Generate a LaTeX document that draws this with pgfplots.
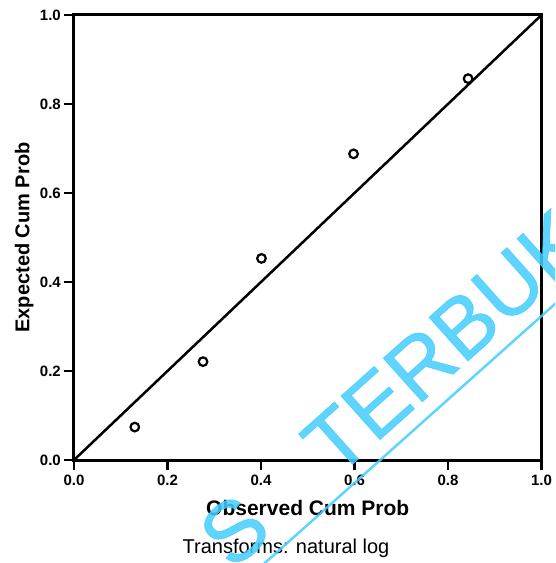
\documentclass[border=0pt]{standalone}
\usepackage{fontspec}
\setmainfont{Liberation Sans}
\newfontfamily\wmfont{Liberation Sans}[FakeBold=0.8]
\usepackage{pgfplots}
\pgfplotsset{compat=1.18}
\definecolor{wmcyan}{RGB}{66,205,255}

\begin{document}
\begin{tikzpicture}
\begin{axis}[
  name=ax,
  at={(0,0)}, anchor=south west,
  scale only axis,
  width=467.5pt, height=445pt,
  xmin=0, xmax=1, ymin=0, ymax=1,
  xtick={0,0.2,0.4,0.6,0.8,1},
  ytick={0,0.2,0.4,0.6,0.8,1},
  xticklabels={0.0,0.2,0.4,0.6,0.8,1.0},
  yticklabels={0.0,0.2,0.4,0.6,0.8,1.0},
  tick align=outside,
  major tick length=10pt,
  tick style={line width=2.5pt, black},
  xtick pos=bottom, ytick pos=left,
  axis line style={line width=3pt},
  ticklabel style={font=\fontsize{15}{15}\selectfont\bfseries, inner sep=0pt},
  yticklabel style={xshift=-3pt},
  xticklabel style={yshift=-5pt},
  xlabel={Observed Cum Prob},
  ylabel={Expected Cum Prob},
  xlabel style={at={(axis description cs:0.5,-0.1236)}, anchor=base,
    font=\fontsize{21}{21}\selectfont\bfseries, inner sep=0pt},
  ylabel style={at={(axis description cs:-0.0952,0.5)}, anchor=base, rotate=0,
    font=\fontsize{20}{20}\selectfont\bfseries, inner sep=0pt},
  clip=false,
]
  % reference diagonal
  \addplot[black, line width=2.5pt] coordinates {(0,0) (1,1)};
  % observed vs expected cumulative probabilities
  \addplot[only marks, mark=o, mark size=4.3pt, mark options={line width=2.2pt, black}]
    coordinates {
      (0.130,0.074)
      (0.276,0.221)
      (0.401,0.453)
      (0.598,0.688)
      (0.843,0.857)
    };
  \node[anchor=base, inner sep=0pt, font=\fontsize{20}{20}\selectfont]
    at (axis description cs:0.4535,-0.2112) {Transforms: natural log};
\end{axis}

% watermark
\begin{scope}[shift={(ax.south west)}]
  \clip (-74pt,-103pt) rectangle (481pt,460pt);
  \begin{scope}[opacity=0.85]
    \node[anchor=base east, inner sep=0pt, rotate=41.8, text=wmcyan,
      font=\wmfont\fontsize{85}{85}\selectfont] at (201pt,-73.5pt) {S};
    \node[anchor=base west, inner sep=0pt, rotate=41.8, text=wmcyan,
      font=\wmfont\fontsize{85}{85}\selectfont] at (262pt,-19pt) {TERBUKA};
    \draw[wmcyan, line width=2.5pt] (-41pt,-310pt) -- (556pt,223pt);
  \end{scope}
\end{scope}

\pgfresetboundingbox
\path[use as bounding box] ([shift={(-74pt,-103pt)}]ax.south west)
  rectangle ([shift={(481pt,460pt)}]ax.south west);
\end{tikzpicture}
\end{document}
